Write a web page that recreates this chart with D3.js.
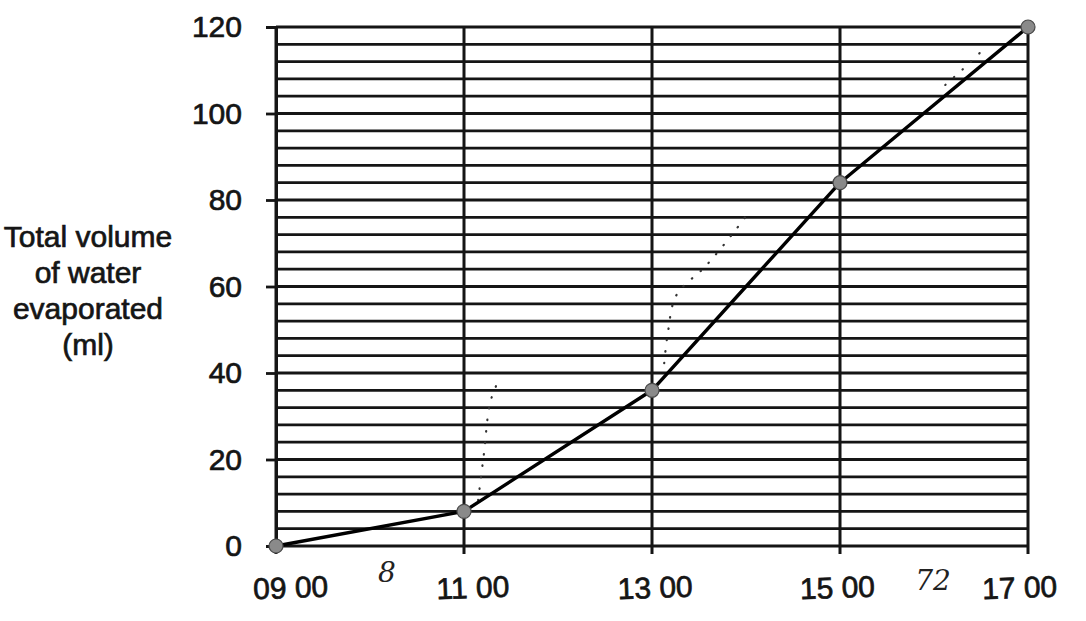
<!DOCTYPE html>
<html>
<head>
<meta charset="utf-8">
<script src="https://cdn.jsdelivr.net/npm/d3@7"></script>
<style>
  body { margin: 0; background: #fff; }
</style>
</head>
<body>
<div id="chart"></div>
<script>
// values
var hours = [9, 11, 13, 15, 17];
var tickLabels = ["09 00", "11 00", "13 00", "15 00", "17 00"];
var volume = [0, 8, 36, 84, 120];
var yTicks = [0, 20, 40, 60, 80, 100, 120];
var gridStep = 4;
var yLabelLines = ["Total volume", "of water", "evaporated", "(ml)"];

// faint pencil dots on the scan, in hours / ml
var pencilA = [[11.15, 10.6], [11.21, 21], [11.28, 33.3], [11.37, 38.4]];
var pencilB = [[13.13, 42.3], [13.17, 49.5], [13.26, 58], [13.57, 64.7], [13.88, 72.8], [14.04, 77.5]];
var pencilC = [[16.12, 106.6], [16.31, 110.3], [16.52, 114.7]];
var notes = [{h: 10.18, v: -6.5, t: "8"}, {h: 15.99, v: -8.5, t: "72"}];

var drawGraph = function(){
  var width = 1086;
  var height = 621;
  var ink = "#151515";
  var fontFamily = "'Liberation Sans', Arial, sans-serif";

  var svg = d3.select("#chart")
    .append("svg")
    .attr("width", width)
    .attr("height", height);

  var x = d3.scaleLinear().domain([9, 17]).range([276, 1028]);
  var y = d3.scaleLinear().domain([0, 120]).range([546, 27]);
  // the hand-lettered hour labels are spaced a little tighter than the grid
  var xLabel = d3.scaleLinear().domain([9, 17]).range([291, 1020]);

  // horizontal ruling every 4 ml
  var grid = d3.range(0, 120 + 1, gridStep);
  svg.append("g")
    .selectAll("line")
    .data(grid)
    .enter().append("line")
    .attr("x1", x(9))
    .attr("x2", x(17))
    .attr("y1", function(d){ return y(d); })
    .attr("y2", function(d){ return y(d); })
    .attr("stroke", ink)
    .attr("stroke-width", 2.8);

  // vertical lines at each hour tick
  svg.append("g")
    .selectAll("line")
    .data(hours)
    .enter().append("line")
    .attr("x1", function(d){ return x(d); })
    .attr("x2", function(d){ return x(d); })
    .attr("y1", y(120))
    .attr("y2", y(0) + 8)
    .attr("stroke", ink)
    .attr("stroke-width", 3);

  // y axis with labels
  var yAxis = svg.append("g")
    .attr("transform", "translate(" + x(9) + ",0)")
    .call(d3.axisLeft(y).tickValues(yTicks).tickSize(10).tickPadding(24));
  yAxis.select(".domain").attr("stroke", ink).attr("stroke-width", 3);
  yAxis.selectAll(".tick line").attr("stroke", ink).attr("stroke-width", 2.8);
  yAxis.selectAll(".tick text")
    .attr("font-family", fontFamily)
    .attr("font-size", 30)
    .attr("fill", ink)
    .attr("stroke", ink)
    .attr("stroke-width", 0.7);

  // x labels
  svg.append("g")
    .selectAll("text")
    .data(hours)
    .enter().append("text")
    .attr("transform", function(d){ return "translate(" + xLabel(d) + "," + 598 + ") rotate(-2)"; })
    .attr("text-anchor", "middle")
    .attr("font-family", fontFamily)
    .attr("font-size", 30)
    .attr("fill", ink)
    .attr("stroke", ink)
    .attr("stroke-width", 0.7)
    .text(function(d, i){ return tickLabels[i]; });

  // y title
  svg.append("g")
    .selectAll("text")
    .data(yLabelLines)
    .enter().append("text")
    .attr("x", 88)
    .attr("y", function(d, i){ return 247 + i * 36; })
    .attr("text-anchor", "middle")
    .attr("font-family", fontFamily)
    .attr("font-size", 30)
    .attr("fill", ink)
    .attr("stroke", ink)
    .attr("stroke-width", 0.7)
    .text(function(d){ return d; });

  // pencil marks
  var pencil = d3.line()
    .x(function(d){ return x(d[0]); })
    .y(function(d){ return y(d[1]); })
    .curve(d3.curveCatmullRom);
  svg.append("g")
    .selectAll("path")
    .data([pencilA, pencilB, pencilC])
    .enter().append("path")
    .attr("d", pencil)
    .attr("fill", "none")
    .attr("stroke", "#333")
    .attr("stroke-width", 2.2)
    .attr("stroke-linecap", "round")
    .attr("stroke-dasharray", "0.5 11");

  svg.append("g")
    .selectAll("text")
    .data(notes)
    .enter().append("text")
    .attr("x", function(d){ return x(d.h); })
    .attr("y", function(d){ return y(d.v); })
    .attr("text-anchor", "middle")
    .attr("dominant-baseline", "middle")
    .attr("font-family", "'DejaVu Serif', serif")
    .attr("font-style", "italic")
    .attr("font-size", 28)
    .attr("fill", "#222")
    .text(function(d){ return d.t; });

  // the plotted line
  var pts = hours.map(function(h, i){ return [h, volume[i]]; });
  var line = d3.line()
    .x(function(d){ return x(d[0]); })
    .y(function(d){ return y(d[1]); });
  svg.append("path")
    .datum(pts)
    .attr("d", line)
    .attr("fill", "none")
    .attr("stroke", "#000")
    .attr("stroke-width", 3.4)
    .attr("stroke-linejoin", "round");

  svg.append("g")
    .selectAll("circle")
    .data(pts)
    .enter().append("circle")
    .attr("cx", function(d){ return x(d[0]); })
    .attr("cy", function(d){ return y(d[1]); })
    .attr("r", 7)
    .attr("fill", "#8a8a8a")
    .attr("stroke", "#4a4a4a")
    .attr("stroke-width", 1.2);
};

drawGraph();
</script>
</body>
</html>
